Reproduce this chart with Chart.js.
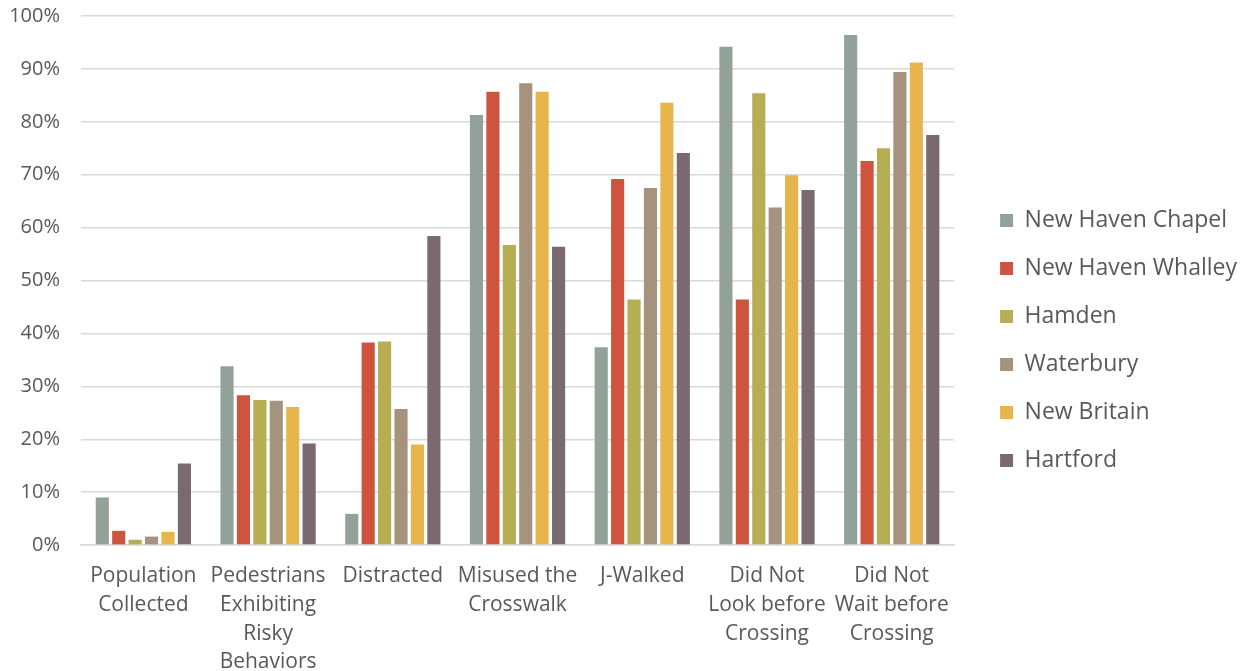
<!DOCTYPE html>
<html>
<head>
<meta charset="utf-8">
<script src="https://cdn.jsdelivr.net/npm/chart.js@4/dist/chart.umd.min.js"></script>
<style>
  html, body { margin: 0; padding: 0; background: #fff; overflow: hidden; }
  #wrap { width: 1249px; height: 693px; position: relative; }
</style>
</head>
<body>
<div id="wrap"><canvas id="chart"></canvas></div>
<script>
const categories = [
    ['Population', 'Collected'],
    ['Pedestrians', 'Exhibiting', 'Risky', 'Behaviors'],
    ['Distracted'],
    ['Misused the', 'Crosswalk'],
    ['J-Walked'],
    ['Did Not', 'Look before', 'Crossing'],
    ['Did Not', 'Wait before', 'Crossing']
];
const seriesNames = ['New Haven Chapel', 'New Haven Whalley', 'Hamden', 'Waterbury', 'New Britain', 'Hartford'];
const newHavenChapel  = [9.0, 33.8, 5.9, 81.3, 37.4, 94.2, 96.4];
const newHavenWhalley = [2.7, 28.3, 38.3, 85.7, 69.2, 46.4, 72.6];
const hamden          = [1.0, 27.4, 38.5, 56.7, 46.4, 85.4, 75.0];
const waterbury       = [1.6, 27.3, 25.7, 87.3, 67.5, 63.8, 89.4];
const newBritain      = [2.5, 26.1, 19.0, 85.7, 83.6, 69.9, 91.2];
const hartford        = [15.4, 19.2, 58.4, 56.4, 74.1, 67.1, 77.5];
const colors = ['#93A299', '#CF543F', '#B5AE53', '#A5937D', '#E8B54D', '#7A6A6F'];

const allSeries = [newHavenChapel, newHavenWhalley, hamden, waterbury, newBritain, hartford];

const textColor = '#595959';
const fontFamily = "'Open Sans', 'Noto Sans', sans-serif";
const legendExtraGap = 21;
const legendShiftUp = 6;
const yAxisWidth = 81;

const datasets = allSeries.map(function(values, i) {
    return {
        label: seriesNames[i],
        data: values,
        backgroundColor: colors[i],
        borderWidth: 0,
        categoryPercentage: 0.79,
        barPercentage: 0.8
    };
});

// widen the space between plot and legend without touching the item spacing
const legendGap = {
    id: 'legendGap',
    beforeLayout: function(chart) {
        const lg = chart.legend;
        if (lg && !lg._gapPatched) {
            const origFit = lg.fit;
            lg.fit = function() {
                origFit.apply(this, arguments);
                this.width += legendExtraGap;
            };
            lg._gapPatched = true;
        }
    },
    afterLayout: function(chart) {
        if (chart.legend) {
            chart.legend.left += legendExtraGap;
            chart.legend.top -= legendShiftUp;
            chart.legend.bottom -= legendShiftUp;
        }
    }
};

new Chart(document.getElementById('chart'), {
    type: 'bar',
    data: { labels: categories, datasets: datasets },
    plugins: [legendGap],
    options: {
        responsive: true,
        maintainAspectRatio: false,
        animation: false,
        layout: { padding: { top: 0, left: 0, right: 2, bottom: 0 } },
        scales: {
            x: {
                grid: { display: false, drawTicks: false },
                border: { color: '#D9D9D9', width: 1.5 },
                ticks: {
                    color: textColor,
                    font: { family: fontFamily, size: 21, lineHeight: 1.38 },
                    padding: 16,
                    maxRotation: 0,
                    autoSkip: false
                }
            },
            y: {
                min: 0,
                max: 100,
                grid: { color: '#D9D9D9', lineWidth: 1.5, drawTicks: false },
                border: { display: false },
                afterFit: function(scale) {
                    scale.width = yAxisWidth;
                    scale.paddingTop = 16;
                    scale.paddingBottom = 8;
                },
                ticks: {
                    stepSize: 10,
                    color: textColor,
                    font: { family: fontFamily, size: 20, lineHeight: 0.75 },
                    padding: 21,
                    callback: function(value) { return value + '%'; }
                }
            }
        },
        plugins: {
            legend: {
                position: 'right',
                labels: {
                    color: textColor,
                    font: { family: fontFamily, size: 23 },
                    boxWidth: 13,
                    boxHeight: 13,
                    padding: 25
                }
            },
            tooltip: { enabled: false }
        }
    }
});
</script>
</body>
</html>
